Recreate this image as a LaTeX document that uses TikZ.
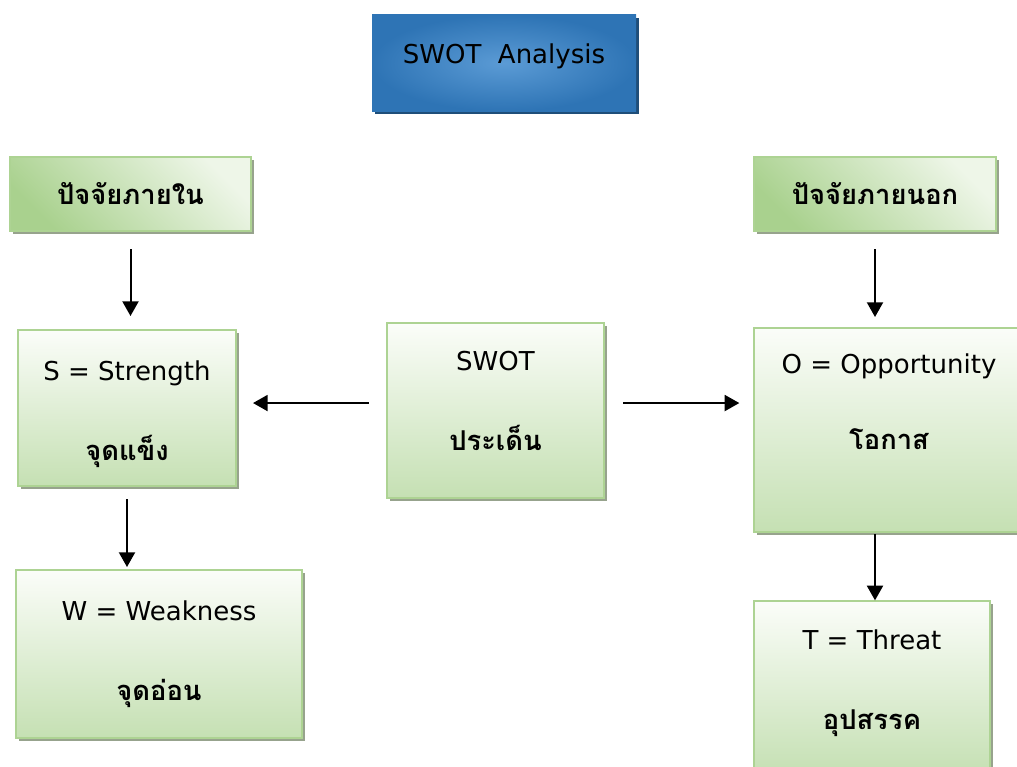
\documentclass[tikz,border=0pt]{standalone}
\usepackage{fontspec}
\setmainfont{DejaVu Sans}
\newfontfamily\thaifont[Script=Thai]{Loma}
\usepackage{tikz}
\usetikzlibrary{arrows.meta,shadows,positioning}

\definecolor{greentop}{HTML}{FBFDF9}
\definecolor{greenbot}{HTML}{C5E0B3}
\definecolor{greenline}{HTML}{ADD393}
\definecolor{greenshadow}{HTML}{97A38D}
\definecolor{factordark}{HTML}{A9D18E}
\definecolor{factorlight}{HTML}{EEF6E8}
\definecolor{blueout}{HTML}{2E74B5}
\definecolor{bluein}{HTML}{5B9BD5}
\definecolor{blueshadow}{HTML}{1F4E79}

\newcommand{\thaitext}[1]{{\thaifont\bfseries\fontsize{20.5}{24}\selectfont #1}}

\begin{document}
\begin{tikzpicture}[
        x=0.75pt, y=-0.75pt,
        title/.style={rectangle, inner color=bluein, outer color=blueout,
          minimum width=198pt, minimum height=72pt, inner sep=0pt, text depth=14pt,
          font=\fontsize{19.5}{24}\selectfont,
          drop shadow={shadow xshift=2.4pt, shadow yshift=-2.4pt, fill=blueshadow, opacity=1}},
        factor/.style={rectangle, draw=greenline, line width=1.5pt,
          top color=factorlight, bottom color=factordark, shading angle=-45,
          inner sep=0pt,
          drop shadow={shadow xshift=2.2pt, shadow yshift=-2.2pt, fill=greenshadow, opacity=1}},
        swotbox/.style={rectangle, draw=greenline, line width=1.5pt,
          top color=greentop, bottom color=greenbot, align=center,
          inner sep=0pt, font=\fontsize{19.5}{24}\selectfont,
          drop shadow={shadow xshift=2.2pt, shadow yshift=-2.2pt, fill=greenshadow, opacity=1}},
        arr/.style={-{Triangle[length=11pt, width=12pt]}, line width=1.5pt, black}
      ]
        \clip (0,0) rectangle (1017,767);

        \node (title) [title] at (504,63) {SWOT~~Analysis};

        % factors
        \node (inner) [factor, minimum width=181pt, minimum height=55.5pt] at (130.5,194) {\thaitext{ปัจจัยภายใน}};
        \node (outer) [factor, minimum width=181.5pt, minimum height=55.5pt] at (875,194) {\thaitext{ปัจจัยภายนอก}};

        % swot boxes
        \node (issue) [swotbox, minimum width=163pt, minimum height=131pt] at (495.5,410.5)
          {SWOT\\[36pt]\thaitext{ประเด็น}\\[-16pt]\strut};
        \node (strength) [swotbox, minimum width=163.5pt, minimum height=117pt] at (127,408)
          {\strut\\[-17pt]S = Strength\\[36pt]\thaitext{จุดแข็ง}};
        \node (weak) [swotbox, minimum width=214.5pt, minimum height=126pt] at (159,654)
          {W = Weakness\\[36pt]\thaitext{จุดอ่อน}};
        \node (opp) [swotbox, minimum width=202pt, minimum height=153pt] at (889,430)
          {O = Opportunity\\[33pt]\thaitext{โอกาส}\\[11pt]\strut};
        \node (threat) [swotbox, minimum width=177pt, minimum height=130pt] at (872,688)
          {T = Threat\\[36pt]\thaitext{อุปสรรค}\\[-18pt]\strut};

        \draw[arr, shorten <=12.75pt, shorten >=9.75pt] (inner.south) -- (inner.south |- strength.north);
        \draw[arr, shorten <=9pt, shorten >=1.5pt] (strength.south) -- (strength.south |- weak.north);
        \draw[arr, shorten <=12.75pt, shorten >=12pt] ([yshift=5.6pt]issue.west) -- ([yshift=5.6pt]issue.west -| strength.east);
        \draw[arr, shorten <=13.5pt, shorten >=10.5pt] ([yshift=5.6pt]issue.east) -- ([yshift=5.6pt]issue.east -| opp.west);
        \draw[arr, shorten <=12.75pt, shorten >=7.5pt] (outer.south) -- (outer.south |- opp.north);
        \draw[arr, shorten <=0.75pt] ([xshift=-10.5pt]opp.south) -- ([xshift=-10.5pt]opp.south |- threat.north);
\end{tikzpicture}
\end{document}
